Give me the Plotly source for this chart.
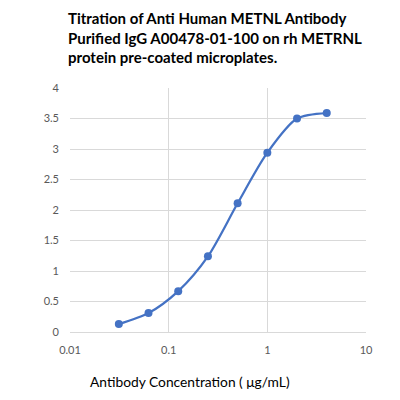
import plotly.graph_objects as go

# antibody concentration (ug/mL) and OD readings
conc = [0.03125, 0.0625, 0.125, 0.25, 0.5, 1, 2, 4]
od = [0.13, 0.31, 0.67, 1.24, 2.11, 2.94, 3.5, 3.59]

x_ticks = [0.01, 0.1, 1, 10]
x_tick_labels = ["0.01", "0.1", "1", "10"]
y_ticks = [0, 0.5, 1, 1.5, 2, 2.5, 3, 3.5, 4]
y_tick_labels = ["0", "0.5", "1", "1.5", "2", "2.5", "3", "3.5", "4"]

blue = "#4472C4"
grid = "#d9d9d9"

fig = go.Figure()
fig.add_trace(go.Scatter(
    x=conc, y=od, mode="lines+markers",
    line=dict(color=blue, width=2.25, shape="spline", smoothing=0.8),
    marker=dict(color=blue, size=8),
    showlegend=False,
))

fig.update_xaxes(
    type="log", range=[-2, 1],
    tickvals=x_ticks, ticktext=x_tick_labels,
    showgrid=True, gridcolor=grid, gridwidth=1,
    showline=True, linecolor=grid, linewidth=1,
    zeroline=False, ticks="", automargin=False,
    ticklabelstandoff=8,
    tickfont=dict(family="Lato", size=11, color="#595959"),
)
fig.update_yaxes(
    range=[0, 4], tickvals=y_ticks, ticktext=y_tick_labels,
    showgrid=True, gridcolor=grid, gridwidth=1,
    showline=False, zeroline=False, ticks="", automargin=False,
    ticklabelstandoff=10,
    tickfont=dict(family="Lato", size=11, color="#595959"),
)

# page body adds an 8px offset, so margins are shifted to compensate
fig.update_layout(
    width=400, height=400,
    margin=dict(l=62, r=42, t=80, b=76),
    paper_bgcolor="white", plot_bgcolor="white",
)

fig.add_annotation(
    text="<b>Titration of Anti Human METNL Antibody<br>Purified IgG A00478-01-100 on rh METRNL<br>protein pre-coated microplates.</b>",
    xref="paper", yref="paper", x=-4 / 296, y=1 + 81 / 244,
    xanchor="left", yanchor="top", align="left", showarrow=False,
    font=dict(family="Lato", size=15, color="black"),
)

fig.add_annotation(
    text="Antibody Concentration ( μg/mL)",
    xref="paper", yref="paper", x=(190 - 70) / 296, y=-49 / 244,
    xanchor="center", yanchor="middle", showarrow=False,
    font=dict(family="Lato", size=13.8, color="black"),
)

fig.write_html("out.html")
